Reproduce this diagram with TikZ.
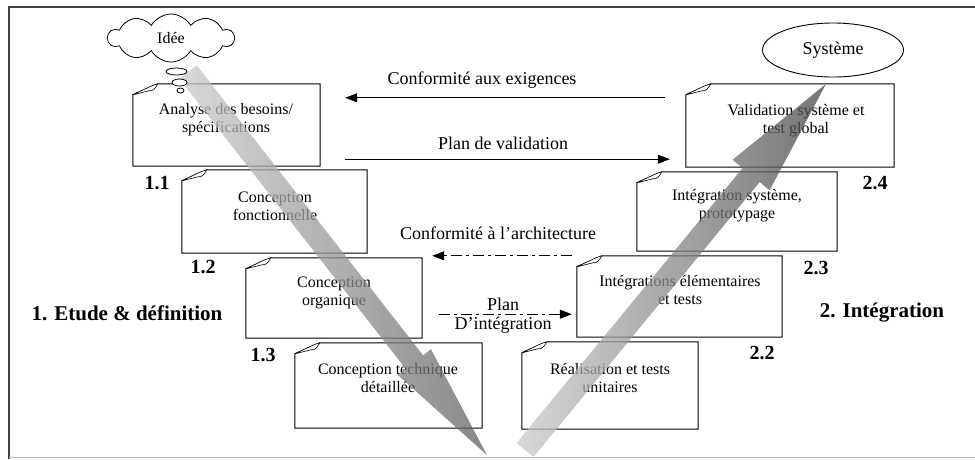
\documentclass[tikz,border=0pt]{standalone}
\usepackage{fontspec}
\setmainfont{Liberation Serif}
\usetikzlibrary{arrows.meta,shapes.geometric,shapes.symbols,calc}
\newcommand{\dogbox}[5]{%
 \node[boxnode, minimum width={(#4-#2)*1pt}, minimum height={(#5-#3)*1pt}] (#1) at ({(#2+#4)/2},{(#3+#5)/2}) {};
 \draw[boxline] ([yshift=-11pt]#1.north west) -- (#1.south west) -- (#1.south east) -- (#1.north east) -- ([xshift=25pt]#1.north west) -- cycle;
 \draw[line width=0.6pt, fill=white] ([yshift=-11pt]#1.north west) -- ([xshift=16pt,yshift=-7pt]#1.north west) .. controls ([xshift=20pt,yshift=-8pt]#1.north west) and ([xshift=23pt,yshift=-4pt]#1.north west) .. ([xshift=25pt]#1.north west) -- ([xshift=19pt,yshift=-2pt]#1.north west) -- cycle;
}
\newcommand{\bigarrow}[7]{%
 \begin{scope}[shift={(#1,#2)}, rotate=#3]
 \shade[left color=#5, right color=#6, fill opacity=0.75] (0,-11) -- ({#4-118},-11) -- ({#4-118},-#7) -- (#4,0) -- ({#4-118},#7) -- ({#4-118},11) -- (0,11) -- cycle;
 \end{scope}}
\begin{document}
\begin{tikzpicture}[x=1pt,y=-1pt,
  boxline/.style={draw=black, line width=1pt, fill=white},
  boxnode/.style={draw=none, inner sep=0pt, rectangle},
  boxtext/.style={align=center, font=\fontsize{16}{18}\selectfont, inner sep=0pt},
  numlbl/.style={font=\bfseries\fontsize{20}{22}\selectfont, inner sep=0pt},
  phase/.style={font=\bfseries\fontsize{21}{24}\selectfont, inner sep=0pt},
  arrlbl/.style={font=\fontsize{18}{20}\selectfont, inner sep=0pt},
  arr/.style={-{Triangle[length=12pt,width=9pt]}, line width=1pt},
  dasharr/.style={arr, dash pattern=on 11pt off 4pt on 3pt off 4pt},
  bubble/.style={ellipse, draw, line width=0.8pt, fill=white, inner sep=0pt},
]
\useasboundingbox (0,0) rectangle (975,459);
\fill[white] (0,0) rectangle (975,459);
% frame
\draw[line width=1.6pt, black!75] (9,459) -- (9,7) -- (975,7);
\draw[line width=1pt, black!25] (9,457.5) -- (975,457.5);

% boxes
\dogbox{b1}{133}{84}{320}{166}
\dogbox{b2}{182}{170}{367}{253}
\dogbox{b3}{246}{258}{422}{338}
\dogbox{b4}{295}{343}{482}{428}
\dogbox{b5}{522}{342}{698}{429}
\dogbox{b6}{577}{256}{782}{337}
\dogbox{b7}{637}{172}{837}{251}
\dogbox{b8}{686}{84}{894}{167}

\node[boxtext] (t1) at (226,120) {Analyse des besoins/\\spécifications};
\node[boxtext] (t2) at (275,206) {Conception\\fonctionnelle};
\node[boxtext] (t3) at (334,293) {Conception\\organique};
\node[boxtext] (t4) at (388,378) {Conception technique\\détaillée};
\node[boxtext] (t5) at (610,378) {Réalisation et tests\\unitaires};
\node[boxtext] (t6) at (680,290) {Intégrations élémentaires\\et tests};
\node[boxtext] (t7) at (737,206) {Intégration système,\\prototypage};
\node[boxtext] (t8) at (796,121) {Validation système et\\test global};

% number labels
\node[numlbl] (n11) at (157,183) {1.1};
\node[numlbl] (n12) at (203,267) {1.2};
\node[numlbl] (n13) at (263,355) {1.3};
\node[numlbl] (n22) at (762,353) {2.2};
\node[numlbl] (n23) at (816,268) {2.3};
\node[numlbl] (n24) at (875,183) {2.4};

% phases
\node[phase] (ph1) at (127,313) {1. Etude \& définition};
\node[phase] (ph2) at (882,313) {2. Intégration};

% connectors
\draw[arr, shorten <=21pt, shorten >=25pt] ([yshift=-14pt]b8.north west) -- ([yshift=-14pt]b1.north east);
\node[arrlbl] (l1) at (482,80) {Conformité aux exigences};
\draw[arr, shorten <=25pt, shorten >=16pt] ([yshift=7pt]b1.south east) -- ([yshift=8pt]b8.south west);
\node[arrlbl] (l2) at (503,143) {Plan de validation};
\draw[dasharr, shorten <=5pt, shorten >=10pt] (b6.north west) -- ([yshift=2pt]b3.north east);
\node[arrlbl] (l3) at (498,233) {Conformité à l’architecture};
\draw[dasharr, shorten <=17pt, shorten >=5pt] ([yshift=24pt]b3.south east) -- ([yshift=23pt]b6.south west);
\node[arrlbl] (l4) at (503,304) {Plan};
\node[arrlbl] (l5) at (503,325) {D’intégration};

% big gray arrows
\bigarrow{188}{72}{-52.03}{486}{black!20}{black!62}{21}
\bigarrow{525}{450}{50.57}{474}{black!20}{black!72}{24}

% idea cloud and bubbles
\node[cloud, draw, line width=0.8pt, fill=white, cloud puffs=10, cloud puff arc=120, aspect=2.6, minimum width=126pt, minimum height=48pt, inner sep=0pt, font=\fontsize{16}{18}\selectfont] (idee) at (171,38) {Idée};
\node[bubble, minimum width=21pt, minimum height=7pt] (bb1) at (176.5,71.5) {};
\node[bubble, minimum width=15pt, minimum height=7pt] (bb2) at (179.5,82.5) {};
\node[bubble, minimum width=7pt, minimum height=5pt] (bb3) at (180.5,90.5) {};

% systeme
\node[ellipse, draw, line width=0.9pt, fill=white, minimum width=141pt, minimum height=54pt, inner sep=0pt, font=\fontsize{18}{20}\selectfont] (sys) at (833,50) {Système};
\end{tikzpicture}
\end{document}
